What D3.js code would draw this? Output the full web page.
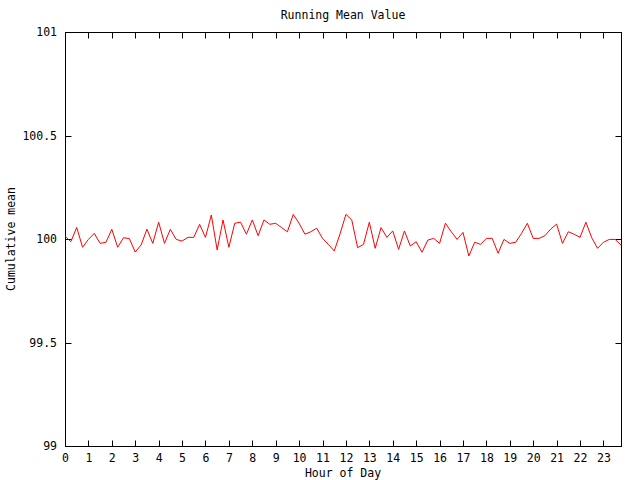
<!DOCTYPE html>
<html>
<head>
<meta charset="utf-8">
<script src="https://cdn.jsdelivr.net/npm/d3@7"></script>
<style>
  html, body { margin: 0; padding: 0; background: #fff; }
  svg { display: block; }
  text { font-family: "DejaVu Sans Mono", "Liberation Mono", monospace; font-size: 11.5px; fill: #000; }
</style>
</head>
<body>
<script>
// Running mean values, sampled every quarter hour (0 .. 23.75)
const meanValues = [
  100.015, 99.987, 100.056, 99.960, 99.998, 100.027, 99.979, 99.984,
  100.047, 99.960, 100.006, 100.002, 99.937, 99.971, 100.047, 99.979,
  100.081, 99.979, 100.047, 99.998, 99.990, 100.008, 100.008, 100.071,
  100.008, 100.116, 99.947, 100.092, 99.960, 100.076, 100.081, 100.023,
  100.092, 100.016, 100.092, 100.071, 100.076, 100.055, 100.035, 100.119,
  100.076, 100.023, 100.035, 100.052, 100.003, 99.974, 99.942, 100.025,
  100.119, 100.092, 99.958, 99.974, 100.081, 99.955, 100.055, 100.008,
  100.039, 99.950, 100.039, 99.966, 99.987, 99.936, 99.995, 100.003,
  99.979, 100.076, 100.035, 99.998, 100.032, 99.918, 99.984, 99.974,
  100.003, 100.003, 99.931, 99.998, 99.979, 99.984, 100.027, 100.076,
  100.003, 100.003, 100.016, 100.048, 100.072, 99.979, 100.035, 100.023,
  100.008, 100.081, 100.006, 99.955, 99.984, 99.998, 99.998, 99.971
];
const hours = d3.range(meanValues.length).map(i => i / 4);
const xTicks = d3.range(0, 24);
const yTicks = [99, 99.5, 100, 100.5, 101];
const titleText = "Running Mean Value";
const xLabelText = "Hour of Day";
const yLabelText = "Cumulative mean";

const W = 640, H = 480;
const L = 65, R = 621, T = 32, B = 446;

const svg = d3.select("body").append("svg").attr("width", W).attr("height", H);

const x = d3.scaleLinear().domain([0, 23.75]).range([L, R]);
const y = d3.scaleLinear().domain([99, 101]).range([B, T]);

const tickLen = 6;
const crisp = v => Math.round(v) + 0.5;

// frame
svg.append("rect")
  .attr("x", crisp(L)).attr("y", crisp(T))
  .attr("width", Math.round(R) - Math.round(L)).attr("height", Math.round(B) - Math.round(T))
  .attr("fill", "none").attr("stroke", "#000").attr("stroke-width", 1);

// x ticks (bottom and mirrored top)
const gx = svg.append("g");
xTicks.forEach(t => {
  const px = crisp(x(t));
  gx.append("line").attr("x1", px).attr("x2", px).attr("y1", crisp(B)).attr("y2", crisp(B) - tickLen).attr("stroke", "#000");
  gx.append("line").attr("x1", px).attr("x2", px).attr("y1", crisp(T)).attr("y2", crisp(T) + tickLen).attr("stroke", "#000");
  gx.append("text").attr("x", x(t) + 0.5).attr("y", B + 16).attr("text-anchor", "middle").text(d3.format("d")(t));
});

// y ticks (left and mirrored right)
const gy = svg.append("g");
yTicks.forEach(t => {
  const py = crisp(y(t));
  gy.append("line").attr("x1", crisp(L)).attr("x2", crisp(L) + tickLen).attr("y1", py).attr("y2", py).attr("stroke", "#000");
  gy.append("line").attr("x1", crisp(R)).attr("x2", crisp(R) - tickLen).attr("y1", py).attr("y2", py).attr("stroke", "#000");
  gy.append("text").attr("x", 57).attr("y", y(t) + 4).attr("text-anchor", "end").text(String(t));
});

// data line
const line = d3.line().x((d, i) => x(hours[i])).y(d => y(d));
svg.append("path")
  .datum(meanValues)
  .attr("d", line)
  .attr("fill", "none")
  .attr("stroke", "#ff0000")
  .attr("stroke-width", 1);

// title and labels
svg.append("text").attr("x", (L + R) / 2).attr("y", 19).attr("text-anchor", "middle").text(titleText);
svg.append("text").attr("x", (L + R) / 2).attr("y", 477).attr("text-anchor", "middle").text(xLabelText);
svg.append("text")
  .attr("transform", `translate(15, ${(T + B) / 2}) rotate(-90)`)
  .attr("text-anchor", "middle").text(yLabelText);
</script>
</body>
</html>
